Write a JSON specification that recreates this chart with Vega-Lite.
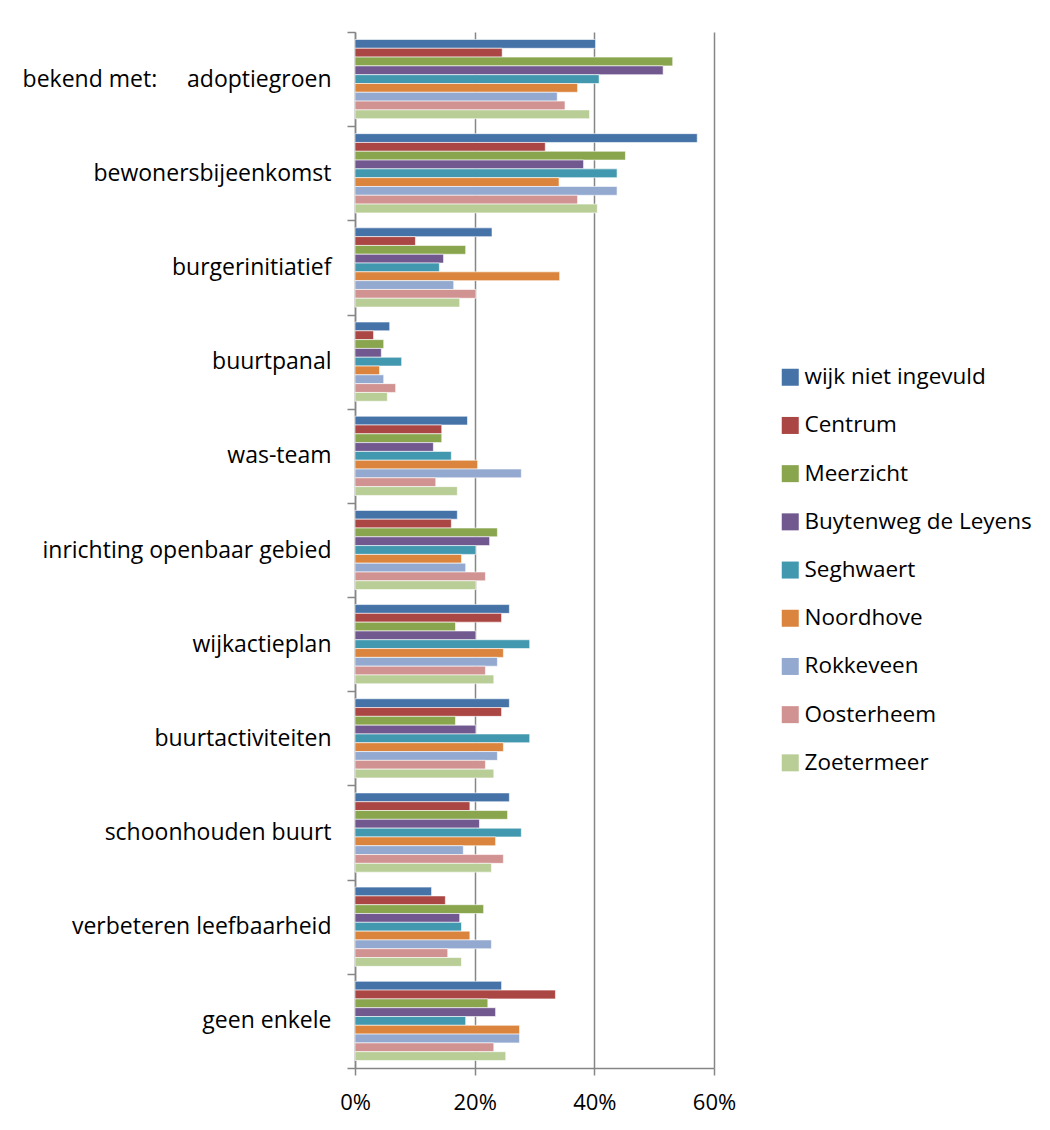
{
  "$schema": "https://vega.github.io/schema/vega-lite/v6.json",
  "width": 359,
  "height": 1036,
  "autosize": {"type": "none"},
  "padding": {"left": 355, "top": 32, "right": 336, "bottom": 62},
  "background": "white",
  "config": {"view": {"stroke": null}, "font": "Open Sans"},
  "data": {
    "values": [
      {"item": "bekend met:\u00a0\u00a0\u00a0\u00a0\u00a0adoptiegroen", "wijk": "wijk niet ingevuld", "pct": 0.402},
      {"item": "bekend met:\u00a0\u00a0\u00a0\u00a0\u00a0adoptiegroen", "wijk": "Centrum", "pct": 0.246},
      {"item": "bekend met:\u00a0\u00a0\u00a0\u00a0\u00a0adoptiegroen", "wijk": "Meerzicht", "pct": 0.531},
      {"item": "bekend met:\u00a0\u00a0\u00a0\u00a0\u00a0adoptiegroen", "wijk": "Buytenweg de Leyens", "pct": 0.515},
      {"item": "bekend met:\u00a0\u00a0\u00a0\u00a0\u00a0adoptiegroen", "wijk": "Seghwaert", "pct": 0.408},
      {"item": "bekend met:\u00a0\u00a0\u00a0\u00a0\u00a0adoptiegroen", "wijk": "Noordhove", "pct": 0.372},
      {"item": "bekend met:\u00a0\u00a0\u00a0\u00a0\u00a0adoptiegroen", "wijk": "Rokkeveen", "pct": 0.338},
      {"item": "bekend met:\u00a0\u00a0\u00a0\u00a0\u00a0adoptiegroen", "wijk": "Oosterheem", "pct": 0.351},
      {"item": "bekend met:\u00a0\u00a0\u00a0\u00a0\u00a0adoptiegroen", "wijk": "Zoetermeer", "pct": 0.392},
      {"item": "bewonersbijeenkomst", "wijk": "wijk niet ingevuld", "pct": 0.572},
      {"item": "bewonersbijeenkomst", "wijk": "Centrum", "pct": 0.318},
      {"item": "bewonersbijeenkomst", "wijk": "Meerzicht", "pct": 0.452},
      {"item": "bewonersbijeenkomst", "wijk": "Buytenweg de Leyens", "pct": 0.382},
      {"item": "bewonersbijeenkomst", "wijk": "Seghwaert", "pct": 0.438},
      {"item": "bewonersbijeenkomst", "wijk": "Noordhove", "pct": 0.341},
      {"item": "bewonersbijeenkomst", "wijk": "Rokkeveen", "pct": 0.438},
      {"item": "bewonersbijeenkomst", "wijk": "Oosterheem", "pct": 0.372},
      {"item": "bewonersbijeenkomst", "wijk": "Zoetermeer", "pct": 0.405},
      {"item": "burgerinitiatief", "wijk": "wijk niet ingevuld", "pct": 0.229},
      {"item": "burgerinitiatief", "wijk": "Centrum", "pct": 0.101},
      {"item": "burgerinitiatief", "wijk": "Meerzicht", "pct": 0.185},
      {"item": "burgerinitiatief", "wijk": "Buytenweg de Leyens", "pct": 0.148},
      {"item": "burgerinitiatief", "wijk": "Seghwaert", "pct": 0.141},
      {"item": "burgerinitiatief", "wijk": "Noordhove", "pct": 0.342},
      {"item": "burgerinitiatief", "wijk": "Rokkeveen", "pct": 0.165},
      {"item": "burgerinitiatief", "wijk": "Oosterheem", "pct": 0.202},
      {"item": "burgerinitiatief", "wijk": "Zoetermeer", "pct": 0.175},
      {"item": "buurtpanal", "wijk": "wijk niet ingevuld", "pct": 0.058},
      {"item": "buurtpanal", "wijk": "Centrum", "pct": 0.031},
      {"item": "buurtpanal", "wijk": "Meerzicht", "pct": 0.048},
      {"item": "buurtpanal", "wijk": "Buytenweg de Leyens", "pct": 0.044},
      {"item": "buurtpanal", "wijk": "Seghwaert", "pct": 0.078},
      {"item": "buurtpanal", "wijk": "Noordhove", "pct": 0.041},
      {"item": "buurtpanal", "wijk": "Rokkeveen", "pct": 0.048},
      {"item": "buurtpanal", "wijk": "Oosterheem", "pct": 0.068},
      {"item": "buurtpanal", "wijk": "Zoetermeer", "pct": 0.054},
      {"item": "was-team", "wijk": "wijk niet ingevuld", "pct": 0.188},
      {"item": "was-team", "wijk": "Centrum", "pct": 0.145},
      {"item": "was-team", "wijk": "Meerzicht", "pct": 0.145},
      {"item": "was-team", "wijk": "Buytenweg de Leyens", "pct": 0.131},
      {"item": "was-team", "wijk": "Seghwaert", "pct": 0.161},
      {"item": "was-team", "wijk": "Noordhove", "pct": 0.205},
      {"item": "was-team", "wijk": "Rokkeveen", "pct": 0.278},
      {"item": "was-team", "wijk": "Oosterheem", "pct": 0.135},
      {"item": "was-team", "wijk": "Zoetermeer", "pct": 0.171},
      {"item": "inrichting openbaar gebied", "wijk": "wijk niet ingevuld", "pct": 0.171},
      {"item": "inrichting openbaar gebied", "wijk": "Centrum", "pct": 0.161},
      {"item": "inrichting openbaar gebied", "wijk": "Meerzicht", "pct": 0.238},
      {"item": "inrichting openbaar gebied", "wijk": "Buytenweg de Leyens", "pct": 0.225},
      {"item": "inrichting openbaar gebied", "wijk": "Seghwaert", "pct": 0.202},
      {"item": "inrichting openbaar gebied", "wijk": "Noordhove", "pct": 0.178},
      {"item": "inrichting openbaar gebied", "wijk": "Rokkeveen", "pct": 0.185},
      {"item": "inrichting openbaar gebied", "wijk": "Oosterheem", "pct": 0.218},
      {"item": "inrichting openbaar gebied", "wijk": "Zoetermeer", "pct": 0.202},
      {"item": "wijkactieplan", "wijk": "wijk niet ingevuld", "pct": 0.258},
      {"item": "wijkactieplan", "wijk": "Centrum", "pct": 0.245},
      {"item": "wijkactieplan", "wijk": "Meerzicht", "pct": 0.168},
      {"item": "wijkactieplan", "wijk": "Buytenweg de Leyens", "pct": 0.202},
      {"item": "wijkactieplan", "wijk": "Seghwaert", "pct": 0.292},
      {"item": "wijkactieplan", "wijk": "Noordhove", "pct": 0.248},
      {"item": "wijkactieplan", "wijk": "Rokkeveen", "pct": 0.238},
      {"item": "wijkactieplan", "wijk": "Oosterheem", "pct": 0.218},
      {"item": "wijkactieplan", "wijk": "Zoetermeer", "pct": 0.232},
      {"item": "buurtactiviteiten", "wijk": "wijk niet ingevuld", "pct": 0.258},
      {"item": "buurtactiviteiten", "wijk": "Centrum", "pct": 0.245},
      {"item": "buurtactiviteiten", "wijk": "Meerzicht", "pct": 0.168},
      {"item": "buurtactiviteiten", "wijk": "Buytenweg de Leyens", "pct": 0.202},
      {"item": "buurtactiviteiten", "wijk": "Seghwaert", "pct": 0.292},
      {"item": "buurtactiviteiten", "wijk": "Noordhove", "pct": 0.248},
      {"item": "buurtactiviteiten", "wijk": "Rokkeveen", "pct": 0.238},
      {"item": "buurtactiviteiten", "wijk": "Oosterheem", "pct": 0.218},
      {"item": "buurtactiviteiten", "wijk": "Zoetermeer", "pct": 0.232},
      {"item": "schoonhouden buurt", "wijk": "wijk niet ingevuld", "pct": 0.258},
      {"item": "schoonhouden buurt", "wijk": "Centrum", "pct": 0.192},
      {"item": "schoonhouden buurt", "wijk": "Meerzicht", "pct": 0.255},
      {"item": "schoonhouden buurt", "wijk": "Buytenweg de Leyens", "pct": 0.208},
      {"item": "schoonhouden buurt", "wijk": "Seghwaert", "pct": 0.278},
      {"item": "schoonhouden buurt", "wijk": "Noordhove", "pct": 0.235},
      {"item": "schoonhouden buurt", "wijk": "Rokkeveen", "pct": 0.181},
      {"item": "schoonhouden buurt", "wijk": "Oosterheem", "pct": 0.248},
      {"item": "schoonhouden buurt", "wijk": "Zoetermeer", "pct": 0.228},
      {"item": "verbeteren leefbaarheid", "wijk": "wijk niet ingevuld", "pct": 0.128},
      {"item": "verbeteren leefbaarheid", "wijk": "Centrum", "pct": 0.151},
      {"item": "verbeteren leefbaarheid", "wijk": "Meerzicht", "pct": 0.215},
      {"item": "verbeteren leefbaarheid", "wijk": "Buytenweg de Leyens", "pct": 0.175},
      {"item": "verbeteren leefbaarheid", "wijk": "Seghwaert", "pct": 0.178},
      {"item": "verbeteren leefbaarheid", "wijk": "Noordhove", "pct": 0.192},
      {"item": "verbeteren leefbaarheid", "wijk": "Rokkeveen", "pct": 0.228},
      {"item": "verbeteren leefbaarheid", "wijk": "Oosterheem", "pct": 0.155},
      {"item": "verbeteren leefbaarheid", "wijk": "Zoetermeer", "pct": 0.178},
      {"item": "geen enkele", "wijk": "wijk niet ingevuld", "pct": 0.245},
      {"item": "geen enkele", "wijk": "Centrum", "pct": 0.335},
      {"item": "geen enkele", "wijk": "Meerzicht", "pct": 0.222},
      {"item": "geen enkele", "wijk": "Buytenweg de Leyens", "pct": 0.235},
      {"item": "geen enkele", "wijk": "Seghwaert", "pct": 0.185},
      {"item": "geen enkele", "wijk": "Noordhove", "pct": 0.275},
      {"item": "geen enkele", "wijk": "Rokkeveen", "pct": 0.275},
      {"item": "geen enkele", "wijk": "Oosterheem", "pct": 0.232},
      {"item": "geen enkele", "wijk": "Zoetermeer", "pct": 0.252}
    ]
  },
  "mark": {"type": "bar", "stroke": "white", "strokeWidth": 0.6},
  "encoding": {
    "y": {
      "field": "item",
      "type": "nominal",
      "sort": null,
      "scale": {"paddingInner": 0, "paddingOuter": 0},
      "axis": {
        "title": null,
        "labelFontSize": 23,
        "labelColor": "#000000",
        "labelPadding": 16,
        "labelLimit": 400,
        "tickBand": "extent",
        "tickSize": 8,
        "tickColor": "#868686",
        "tickWidth": 1.5,
        "domainColor": "#868686",
        "domainWidth": 1.5,
        "grid": false
      }
    },
    "yOffset": {
      "field": "wijk",
      "type": "nominal",
      "scale": {
        "domain": ["wijk niet ingevuld", "Centrum", "Meerzicht", "Buytenweg de Leyens", "Seghwaert", "Noordhove", "Rokkeveen", "Oosterheem", "Zoetermeer"],
        "paddingInner": 0,
        "paddingOuter": 0.85
      }
    },
    "x": {
      "field": "pct",
      "type": "quantitative",
      "scale": {"domain": [0, 0.6], "nice": false},
      "axis": {
        "title": null,
        "format": ".0%",
        "values": [0, 0.2, 0.4, 0.6],
        "labelFontSize": 22,
        "labelColor": "#000000",
        "labelPadding": 17,
        "labelFlush": false,
        "tickSize": 7,
        "tickColor": "#868686",
        "tickWidth": 1.5,
        "domainColor": "#868686",
        "domainWidth": 1.5,
        "grid": true,
        "gridColor": "#868686",
        "gridWidth": 1.5
      }
    },
    "color": {
      "field": "wijk",
      "type": "nominal",
      "scale": {
        "domain": ["wijk niet ingevuld", "Centrum", "Meerzicht", "Buytenweg de Leyens", "Seghwaert", "Noordhove", "Rokkeveen", "Oosterheem", "Zoetermeer"],
        "range": ["#4572A7", "#AA4643", "#89A54E", "#71588F", "#4198AF", "#DB843D", "#93A9CF", "#D19392", "#B9CD96"]
      },
      "legend": {
        "title": null,
        "orient": "none",
        "legendX": 424,
        "legendY": 334,
        "symbolType": "square",
        "symbolSize": 289,
        "symbolStrokeWidth": 0,
        "symbolOpacity": 1,
        "labelFontSize": 22.5,
        "labelColor": "#000000",
        "labelOffset": 3,
        "rowPadding": 25.2,
        "labelLimit": 300
      }
    }
  }
}
